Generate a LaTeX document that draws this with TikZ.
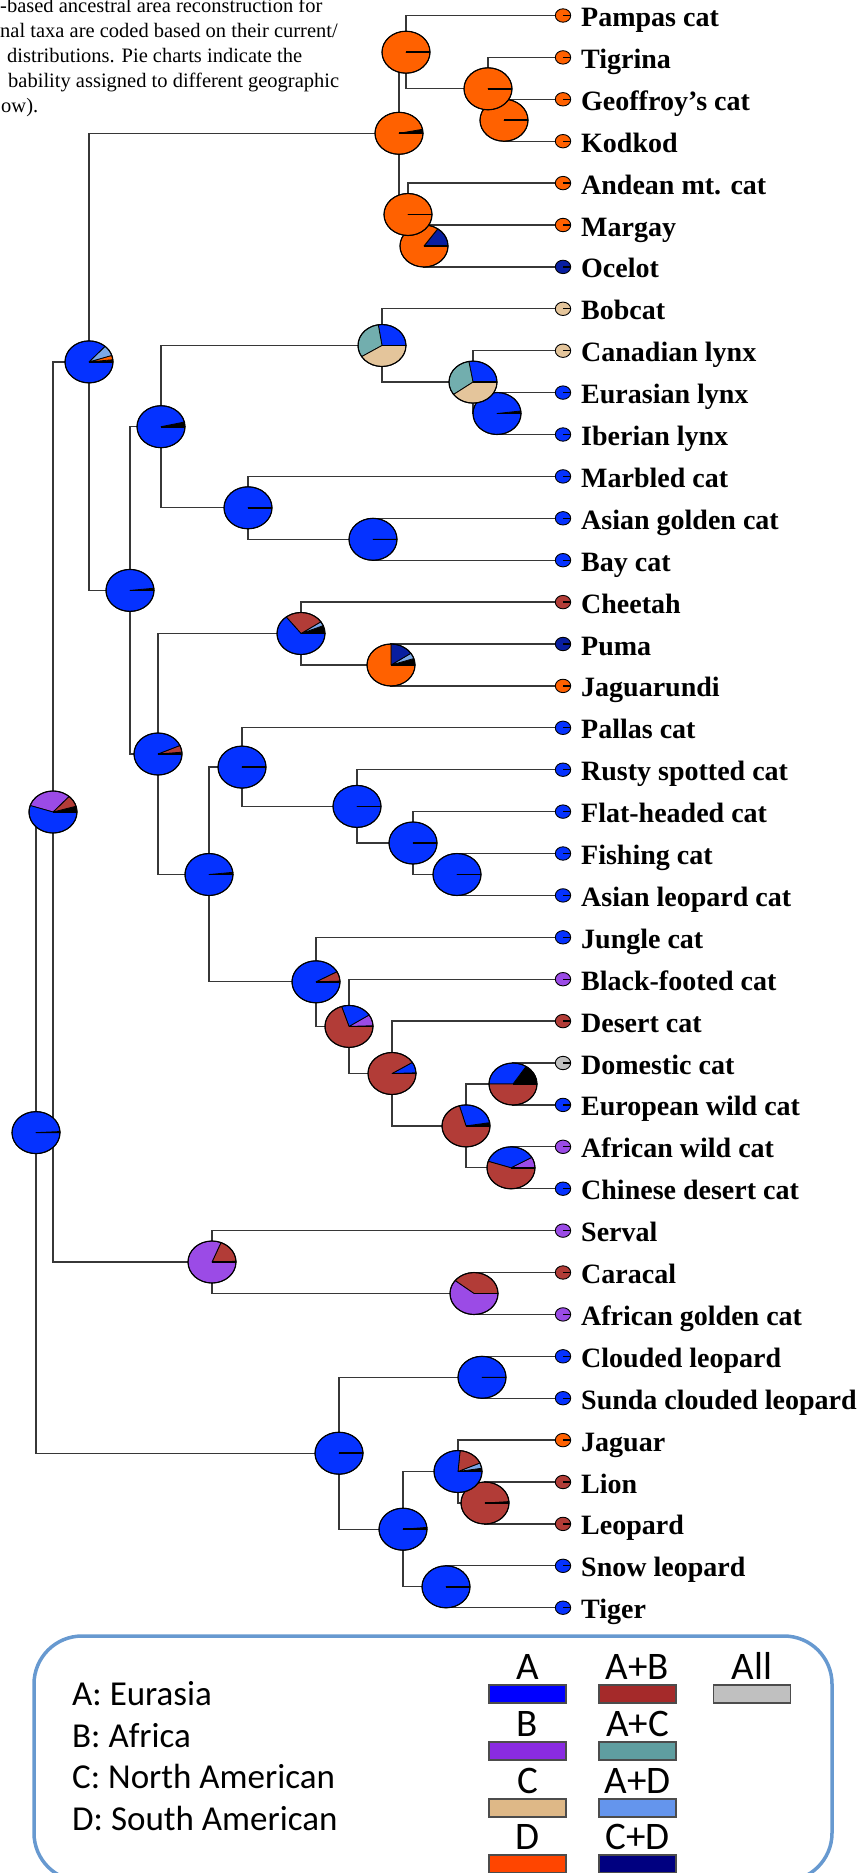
\documentclass[tikz,border=0pt]{standalone}
\usepackage{fontspec}
\setmainfont{Liberation Serif}
\newfontfamily\legendfont{Carlito}
\usetikzlibrary{calc}

% pie fill colours for the reconstructed areas
\definecolor{pA}{RGB}{5,50,255}
\definecolor{pAB}{RGB}{178,60,55}
\definecolor{pB}{RGB}{155,75,230}
\definecolor{pC}{RGB}{228,197,155}
\definecolor{pAC}{RGB}{114,174,174}
\definecolor{pAD}{RGB}{122,168,232}
\definecolor{pD}{RGB}{255,97,0}
\definecolor{pCD}{RGB}{8,30,160}
\definecolor{pAll}{RGB}{192,192,192}
% legend swatch colours
\definecolor{lA}{RGB}{0,0,255}
\definecolor{lAB}{RGB}{165,42,42}
\definecolor{lAll}{RGB}{192,192,192}
\definecolor{lB}{RGB}{138,43,226}
\definecolor{lAC}{RGB}{95,158,160}
\definecolor{lC}{RGB}{222,184,135}
\definecolor{lAD}{RGB}{100,149,237}
\definecolor{lD}{RGB}{255,69,0}
\definecolor{lCD}{RGB}{0,0,128}
\definecolor{frame}{RGB}{103,153,208}
\definecolor{branchgray}{RGB}{55,55,55}

% internal node pie: list of start/end/colour slices
\newcommand\piechart[2]{%
  \begin{scope}[shift={(#1)}]
    \foreach \a/\b/\c in {#2}{%
      \filldraw[fill=\c, draw=black, line width=0.8pt, line join=round]
        (0,0) -- (\a:24 and 21) arc[start angle=\a, end angle=\b, x radius=24, y radius=21] -- cycle;
    }
    \draw[line width=1.6pt] (0,0) -- (24,0);
    \draw[line width=1.1pt] (0,0) ellipse[x radius=24, y radius=21];
  \end{scope}}

% small single-state pie at a tip
\newcommand\tippie[2]{%
  \begin{scope}[shift={(#1)}]
    \fill[#2] (0,0) ellipse[x radius=7.7, y radius=6.7];
    \draw[line width=1.3pt] (0,0) -- (7.7,0);
    \draw[line width=0.9pt] (0,0) ellipse[x radius=7.7, y radius=6.7];
  \end{scope}}

\tikzset{
  branch/.style={draw=branchgray, line width=1.3pt},
  taxon/.style={anchor=base west, inner sep=0pt, font=\bfseries\fontsize{28}{30}\selectfont},
  caption/.style={anchor=base west, inner sep=0pt, font=\fontsize{20.5}{25}\selectfont},
  legtext/.style={anchor=base west, inner sep=0pt, font=\legendfont\fontsize{35}{37}\selectfont},
  swatch/.style={draw=black!70, line width=1.3pt, minimum width=77pt, minimum height=18pt, inner sep=0pt},
  swlabel/.style={anchor=base, inner sep=0pt, font=\legendfont\fontsize{39}{40}\selectfont},
}

\def\taxa{pampas/0/pD/Pampas cat, tigrina/1/pD/Tigrina, geoffroy/2/pD/Geoffroy’s cat,
  kodkod/3/pD/Kodkod, andean/4/pD/Andean mt. cat, margay/5/pD/Margay, ocelot/6/pCD/Ocelot,
  bobcat/7/pC/Bobcat, canlynx/8/pC/Canadian lynx, eurlynx/9/pA/Eurasian lynx,
  iblynx/10/pA/Iberian lynx, marbled/11/pA/Marbled cat, agolden/12/pA/Asian golden cat,
  bay/13/pA/Bay cat, cheetah/14/pAB/Cheetah, puma/15/pCD/Puma, jaguarundi/16/pD/Jaguarundi,
  pallas/17/pA/Pallas cat, rusty/18/pA/Rusty spotted cat, flathead/19/pA/Flat-headed cat,
  fishing/20/pA/Fishing cat, aleopard/21/pA/Asian leopard cat, jungle/22/pA/Jungle cat,
  blackfoot/23/pB/Black-footed cat, desert/24/pAB/Desert cat, domestic/25/pAll/Domestic cat,
  european/26/pA/European wild cat, afwild/27/pB/African wild cat,
  chdesert/28/pA/Chinese desert cat, serval/29/pB/Serval, caracal/30/pAB/Caracal,
  afgolden/31/pB/African golden cat, clouded/32/pA/Clouded leopard,
  sunda/33/pA/Sunda clouded leopard, jaguar/34/pD/Jaguar, lion/35/pAB/Lion,
  leopard/36/pAB/Leopard, snow/37/pA/Snow leopard, tiger/38/pA/Tiger}

\begin{document}
\begin{tikzpicture}[x=1pt, y=1pt]
\useasboundingbox (0,0) rectangle (862,-1873);
\clip (0,0) rectangle (862,-1873);

% caption fragment
\node[caption] (cap1) at (0,-13) {-based ancestral area reconstruction for};
\node[caption] (cap2) at (0,-37.5) {nal taxa are coded based on their current/};
\node[caption] (cap3) at (7,-62.5) {distributions. Pie charts indicate the};
\node[caption] (cap4) at (8,-88) {bability assigned to different geographic};
\node[caption] (cap5) at (1,-113) {ow).};

% tips
\foreach \n/\i/\c/\t in \taxa {
  \coordinate (\n) at (563,{-(15.5+41.9*\i)});
}

% internal nodes
\coordinate (nroot) at (36,-1132.6);
\coordinate (nFN) at (53,-812);
\coordinate (nA) at (89,-361.9);
\coordinate (nB) at (399,-133.3);
\coordinate (nC1) at (406,-52.2);
\coordinate (nD) at (488,-88.8);
\coordinate (nE) at (504,-120.25);
\coordinate (nC2) at (408,-214.5);
\coordinate (nF) at (424,-246);
\coordinate (nG) at (130,-590.4);
\coordinate (nH) at (161,-426.7);
\coordinate (nK) at (382,-345.5);
\coordinate (nM) at (473,-382.1);
\coordinate (nN) at (497,-413.5);
\coordinate (nL) at (248,-507.8);
\coordinate (nO) at (373,-539.3);
\coordinate (nI) at (158,-754);
\coordinate (nP) at (301,-633.5);
\coordinate (nR) at (391,-665);
\coordinate (nQ) at (209,-874.5);
\coordinate (nS) at (242,-767.1);
\coordinate (nU) at (357,-806.4);
\coordinate (nV) at (413,-843);
\coordinate (nW) at (457,-874.5);
\coordinate (nT) at (316,-981.8);
\coordinate (nX) at (349,-1026.4);
\coordinate (nY) at (392,-1073.5);
\coordinate (nZ) at (466,-1125.9);
\coordinate (nAA) at (513,-1084);
\coordinate (nAB) at (511,-1167.8);
\coordinate (nCA) at (212,-1262);
\coordinate (nCB) at (474,-1293.5);
\coordinate (nPA) at (339,-1453.2);
\coordinate (nPB) at (482,-1377.3);
\coordinate (nPC) at (403,-1529.2);
\coordinate (nPD) at (458,-1471.5);
\coordinate (nPF) at (485,-1503);
\coordinate (nPE) at (446,-1586.8);

% branches
\foreach \p/\ch in {nroot/nFN, nroot/nPA, nFN/nA, nFN/nCA, nA/nB, nA/nG,
  nB/nC1, nB/nC2, nC1/pampas, nC1/nD, nD/tigrina, nD/nE, nE/geoffroy, nE/kodkod,
  nC2/andean, nC2/nF, nF/margay, nF/ocelot, nG/nH, nG/nI, nH/nK, nH/nL,
  nK/bobcat, nK/nM, nM/canlynx, nM/nN, nN/eurlynx, nN/iblynx, nL/marbled, nL/nO,
  nO/agolden, nO/bay, nI/nP, nI/nQ, nP/cheetah, nP/nR, nR/puma, nR/jaguarundi,
  nQ/nS, nQ/nT, nS/pallas, nS/nU, nU/rusty, nU/nV, nV/flathead, nV/nW,
  nW/fishing, nW/aleopard, nT/jungle, nT/nX, nX/blackfoot, nX/nY, nY/desert, nY/nZ,
  nZ/nAA, nZ/nAB, nAA/domestic, nAA/european, nAB/afwild, nAB/chdesert,
  nCA/serval, nCA/nCB, nCB/caracal, nCB/afgolden, nPA/nPB, nPA/nPC,
  nPB/clouded, nPB/sunda, nPC/nPD, nPC/nPE, nPD/jaguar, nPD/nPF,
  nPF/lion, nPF/leopard, nPE/snow, nPE/tiger}
  \draw[branch] (\p) |- (\ch);

% ancestral area pies (descendants first)
\piechart{nE}{0/360/pD}
\piechart{nD}{0/360/pD}
\piechart{nC1}{0/360/pD}
\piechart{nF}{0/55/pCD, 55/360/pD}
\piechart{nC2}{0/360/pD}
\piechart{nB}{0/11/black, 11/360/pD}
\piechart{nN}{0/7/black, 7/360/pA}
\piechart{nM}{0/100/pA, 100/216/pAC, 216/360/pC}
\piechart{nK}{0/99/pA, 99/212/pAC, 212/360/pC}
\piechart{nO}{0/360/pA}
\piechart{nL}{0/360/pA}
\piechart{nH}{0/13/black, 13/360/pA}
\piechart{nR}{0/18/black, 18/34/pAD, 34/90/pCD, 90/360/pD}
\piechart{nP}{0/22/black, 22/34/pAD, 34/128/pAB, 128/360/pA}
\piechart{nW}{0/360/pA}
\piechart{nV}{0/360/pA}
\piechart{nU}{0/360/pA}
\piechart{nS}{0/360/pA}
\piechart{nAA}{0/57/black, 57/180/pA, 180/360/pAB}
\piechart{nAB}{0/30/pB, 30/162/pA, 162/360/pAB}
\piechart{nZ}{0/9/black, 9/106/pA, 106/360/pAB}
\piechart{nY}{0/2/black, 2/32/pA, 32/360/pAB}
\piechart{nX}{0/2/black, 2/33/pB, 33/108/pA, 108/360/pAB}
\piechart{nT}{0/2/black, 2/29/pAB, 29/360/pA}
\piechart{nQ}{0/6/black, 6/360/pA}
\piechart{nI}{0/5/black, 5/24/pAB, 24/360/pA}
\piechart{nG}{0/6/black, 6/360/pA}
\piechart{nA}{0/6/black, 6/18/pD, 18/48/pAD, 48/360/pA}
\piechart{nCB}{0/142/pAB, 142/360/pB}
\piechart{nCA}{0/2/black, 2/68/pAB, 68/360/pB}
\piechart{nFN}{0/16/black, 16/48/pAB, 48/162/pB, 162/360/pA}
\piechart{nPF}{0/4/black, 4/360/pAB}
\piechart{nPD}{0/9/black, 9/24/pAD, 24/85/pAB, 85/360/pA}
\piechart{nPE}{0/360/pA}
\piechart{nPC}{0/5/black, 5/360/pA}
\piechart{nPB}{0/360/pA}
\piechart{nPA}{0/2/black, 2/360/pA}
\piechart{nroot}{0/3/black, 3/360/pA}

% tip states and names
\foreach \n/\i/\c/\t in \taxa {
  \tippie{\n}{\c}
  \node[taxon] (\n-lab) at (581,{-(15.5+41.9*\i)-11}) {\t};
}

% legend
\draw[draw=frame, line width=3.5pt, rounded corners=48pt] (34,-1636) rectangle (832,-1881);
\node[legtext] (keyA) at (72,-1705) {A: Eurasia};
\node[legtext] (keyB) at (72,-1747) {B: Africa};
\node[legtext] (keyC) at (72,-1788) {C: North American};
\node[legtext] (keyD) at (72,-1830) {D: South American};

\foreach \nm/\x/\y/\c/\t in {swA/527.5/1694/lA/A, swB/527.5/1751/lB/B, swC/527.5/1808/lC/C,
  swD/527.5/1864/lD/D, swAB/637.5/1694/lAB/A+B, swAC/637.5/1751/lAC/A+C,
  swAD/637.5/1808/lAD/A+D, swCD/637.5/1864/lCD/C+D, swAll/752/1694/lAll/All} {
  \node[swatch, fill=\c] (\nm) at (\x,-\y) {};
  \node[swlabel] (\nm-lab) at ($(\nm.north)+(0,5)$) {\t};
}
\end{tikzpicture}
\end{document}
